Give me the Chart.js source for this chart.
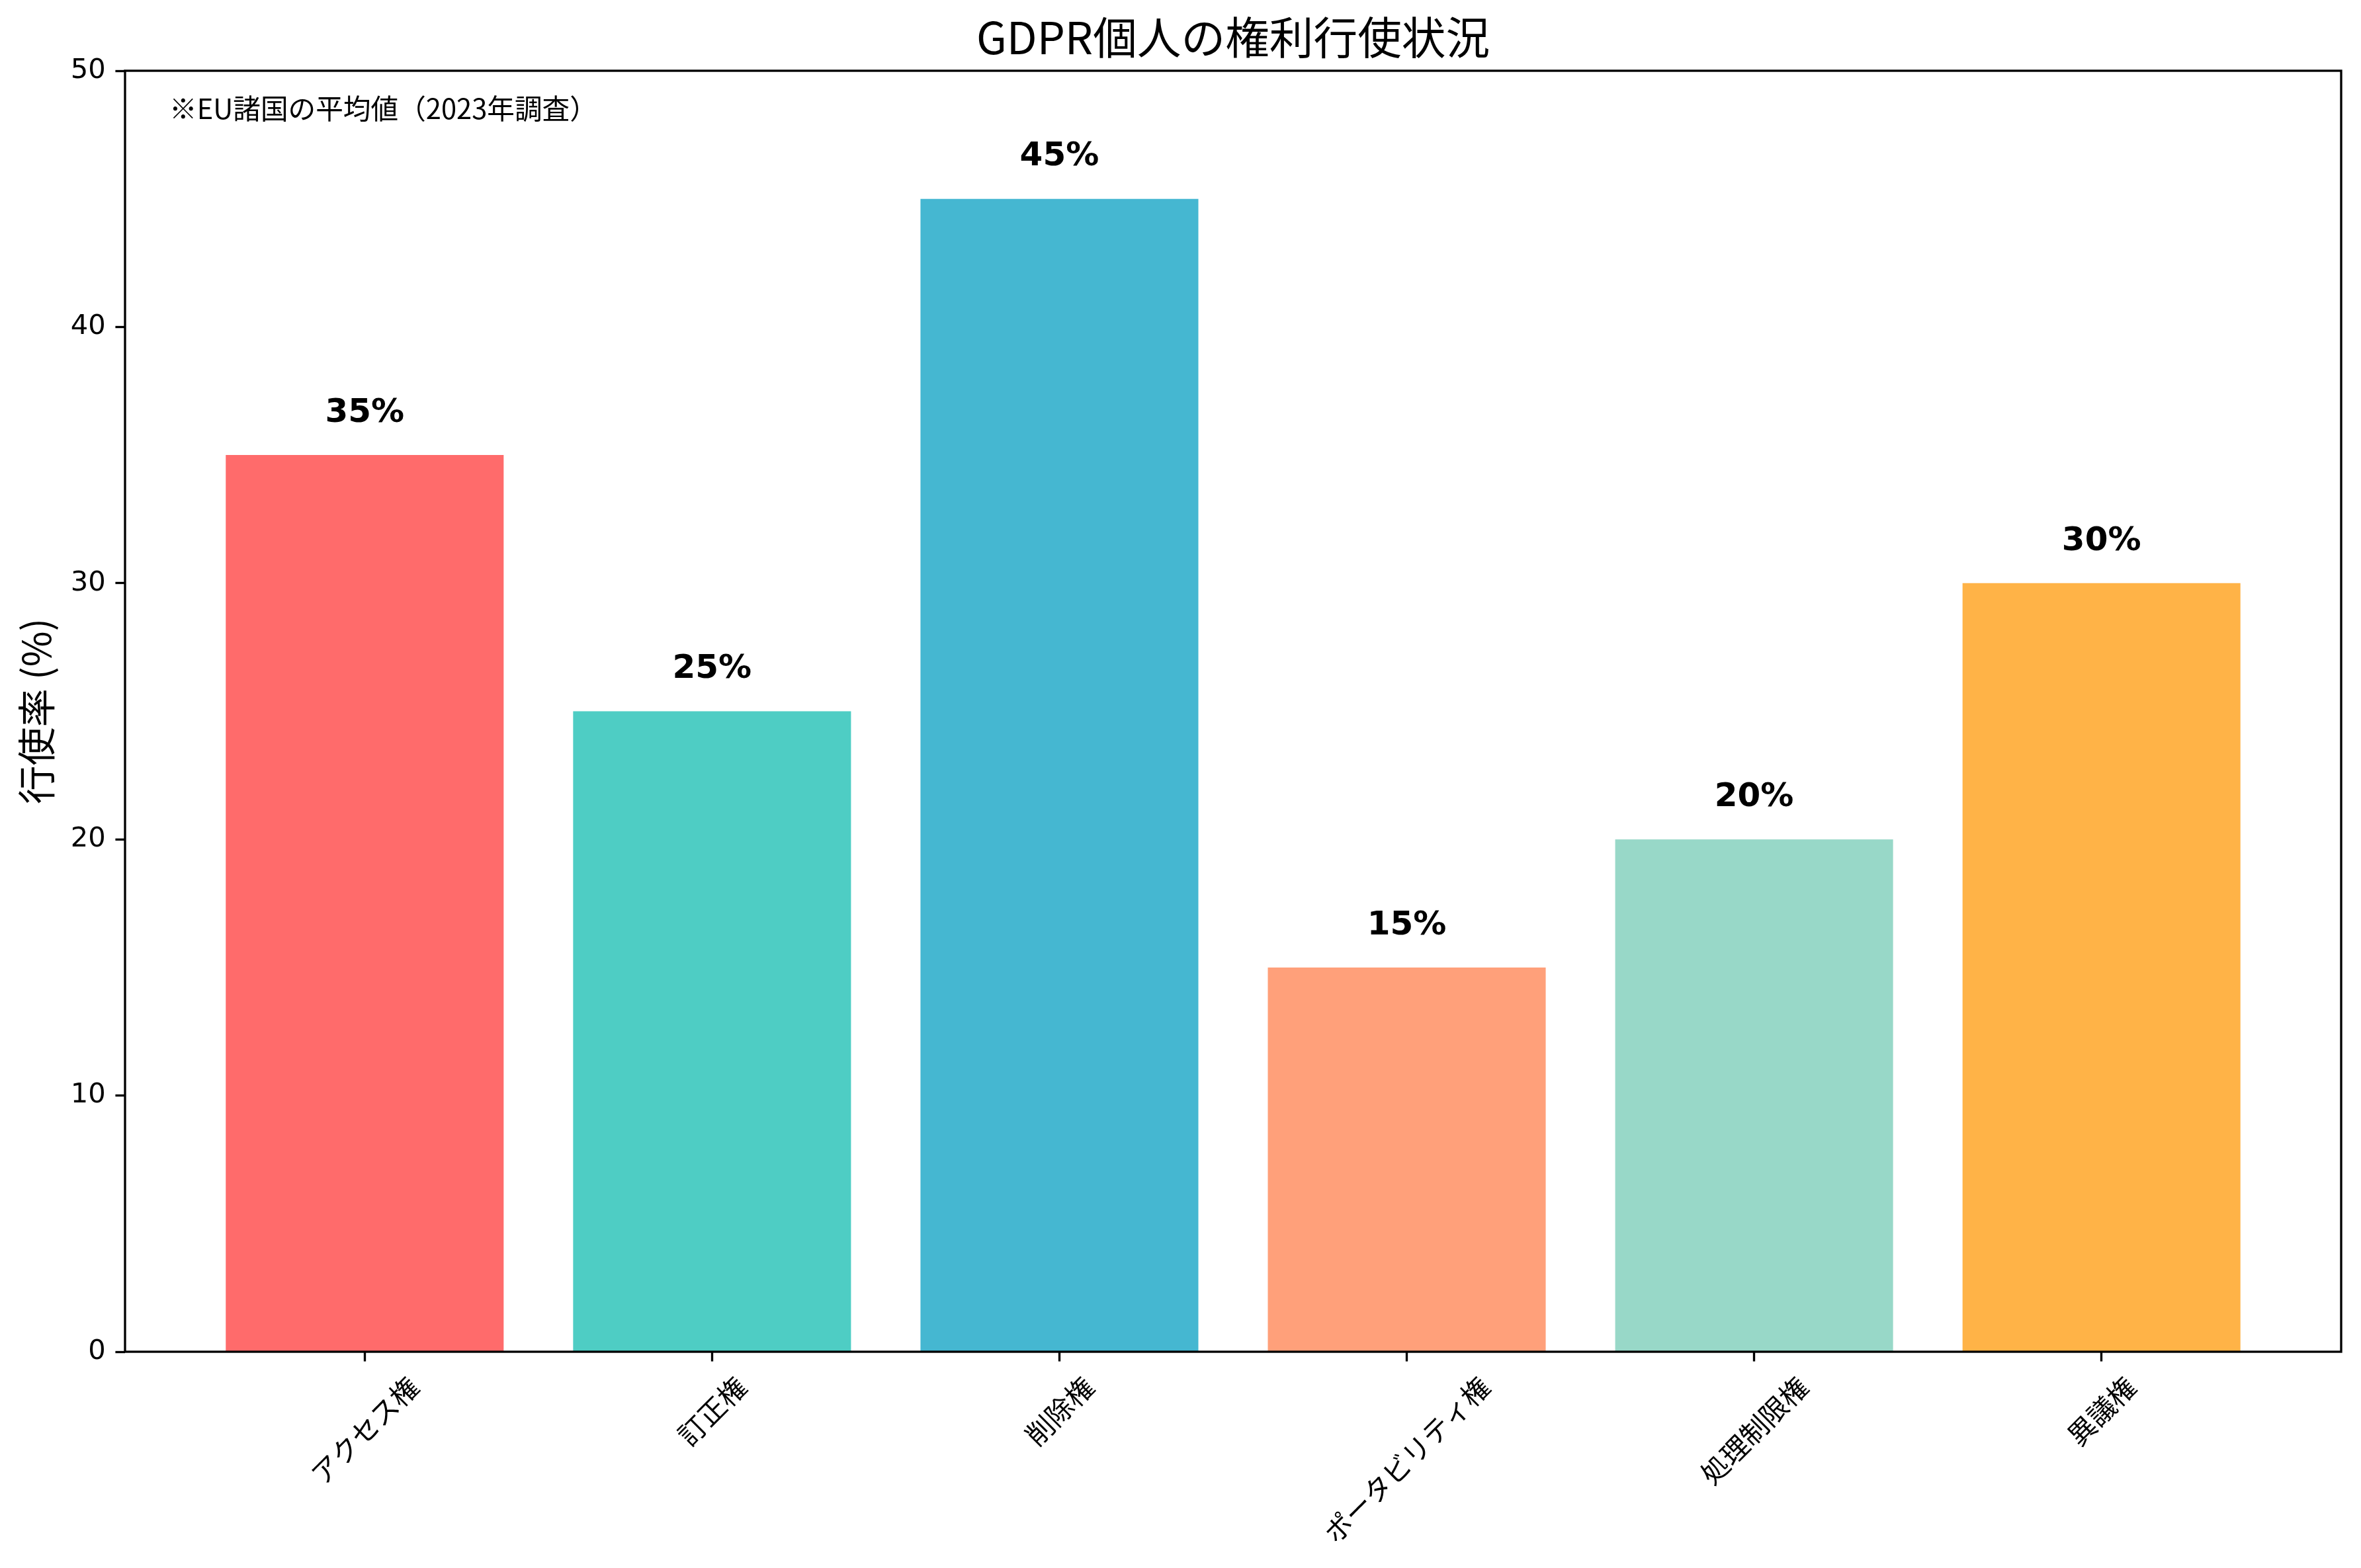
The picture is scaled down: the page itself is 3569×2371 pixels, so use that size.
<!DOCTYPE html>
<html>
<head>
<meta charset="utf-8">
<script src="https://cdn.jsdelivr.net/npm/chart.js@4"></script>
<style>
  html, body { margin: 0; padding: 0; background: #fff; }
  #wrap { width: 3569px; height: 2371px; position: relative; }
</style>
</head>
<body>
<div id="wrap"><canvas id="rightsChart"></canvas></div>
<script>
// data
var categories = ["アクセス権", "訂正権", "削除権", "ポータビリティ権", "処理制限権", "異議権"];
var rates = [35, 25, 45, 15, 20, 30];
var barColors = ["#FF6B6B", "#4ECDC4", "#45B7D1", "#FFA07A", "#98D8C8", "#FFB347"];
var yTicks = [0, 10, 20, 30, 40, 50];

var titleText = "GDPR個人の権利行使状況";
var noteText = "※EU諸国の平均値（2023年調査）";
var yLabel = "行使率 (%)";

var PT = 300 / 72;   // matplotlib points -> px at 300 dpi
var cjk = "'Noto Sans CJK JP', 'Noto Sans', sans-serif";

// frame, title, note, bar labels and rotated category labels
var extras = {
    id: "extras",
    afterDatasetsDraw: function (chart) {
        var ctx = chart.ctx;
        var area = chart.chartArea;
        var x = chart.scales.x;
        var y = chart.scales.y;
        ctx.save();

        // spines all round
        ctx.strokeStyle = "#000";
        ctx.lineWidth = 0.8 * PT;
        ctx.strokeRect(area.left, area.top, area.right - area.left, area.bottom - area.top);

        // title
        ctx.fillStyle = "#000";
        ctx.font = (16 * PT) + "px " + cjk;
        ctx.textAlign = "center";
        ctx.textBaseline = "alphabetic";
        ctx.fillText(titleText, (area.left + area.right) / 2, area.top - 6 * PT);

        // note in the top left corner
        ctx.font = (10 * PT) + "px " + cjk;
        ctx.textAlign = "left";
        ctx.fillText(noteText, area.left + 0.02 * (area.right - area.left),
            area.top + 0.02 * (area.bottom - area.top) + 0.83 * 10 * PT);

        // value labels over the bars
        ctx.font = "bold " + (12 * PT) + "px 'DejaVu Sans', sans-serif";
        ctx.textAlign = "center";
        rates.forEach(function (v, i) {
            ctx.fillText(v + "%", x.getPixelForValue(i), y.getPixelForValue(v + 1) - 0.23 * 12 * PT);
        });

        // category labels, rotated 45 and centred under the tick
        var fs = 10 * PT;
        ctx.font = fs + "px " + cjk;
        var top = area.bottom + 3.5 * PT + 3.5 * PT;
        categories.forEach(function (c, i) {
            var w = ctx.measureText(c).width;
            var h = 1.1 * fs;
            var side = (w + h) / Math.SQRT2;
            ctx.save();
            ctx.translate(x.getPixelForValue(i), top + side / 2);
            ctx.rotate(-Math.PI / 4);
            ctx.textAlign = "center";
            ctx.textBaseline = "middle";
            ctx.fillText(c, 0, 0);
            ctx.restore();
        });

        ctx.restore();
    }
};

new Chart(document.getElementById("rightsChart"), {
    type: "bar",
    data: {
        datasets: [{
            data: rates.map(function (v, i) { return { x: i, y: v }; }),
            backgroundColor: barColors,
            borderWidth: 0,
            categoryPercentage: 0.8,
            barPercentage: 1.0
        }]
    },
    options: {
        responsive: true,
        maintainAspectRatio: false,
        devicePixelRatio: 1,
        animation: false,
        layout: { padding: { top: 107, left: 0, right: 30, bottom: 0 } },
        plugins: {
            legend: { display: false },
            tooltip: { enabled: false },
            title: { display: false }
        },
        scales: {
            x: {
                type: "linear",
                bounds: "data",
                min: -0.69,
                max: 5.69,
                offset: false,
                afterBuildTicks: function (s) {
                    s.ticks = categories.map(function (c, i) { return { value: i }; });
                },
                afterFit: function (s) { s.height = 327; },
                ticks: { display: false },
                border: { display: false },
                grid: {
                    offset: false,
                    drawOnChartArea: false,
                    drawTicks: true,
                    tickLength: 3.5 * PT,
                    tickWidth: 0.8 * PT,
                    tickColor: "#000"
                }
            },
            y: {
                type: "linear",
                bounds: "data",
                min: 0,
                max: 50,
                afterBuildTicks: function (s) {
                    s.ticks = yTicks.map(function (v) { return { value: v }; });
                },
                afterFit: function (s) { s.width = 189; },
                ticks: {
                    color: "#000",
                    padding: 3.5 * PT,
                    font: { family: "'DejaVu Sans', sans-serif", size: 10 * PT }
                },
                border: { display: false },
                grid: {
                    drawOnChartArea: false,
                    drawTicks: true,
                    tickLength: 3.5 * PT,
                    tickWidth: 0.8 * PT,
                    tickColor: "#000"
                },
                title: {
                    display: true,
                    text: yLabel,
                    color: "#000",
                    padding: { top: 20, bottom: 0 },
                    font: { family: cjk, size: 14 * PT, lineHeight: 1.2 }
                }
            }
        }
    },
    plugins: [extras]
});
</script>
</body>
</html>
